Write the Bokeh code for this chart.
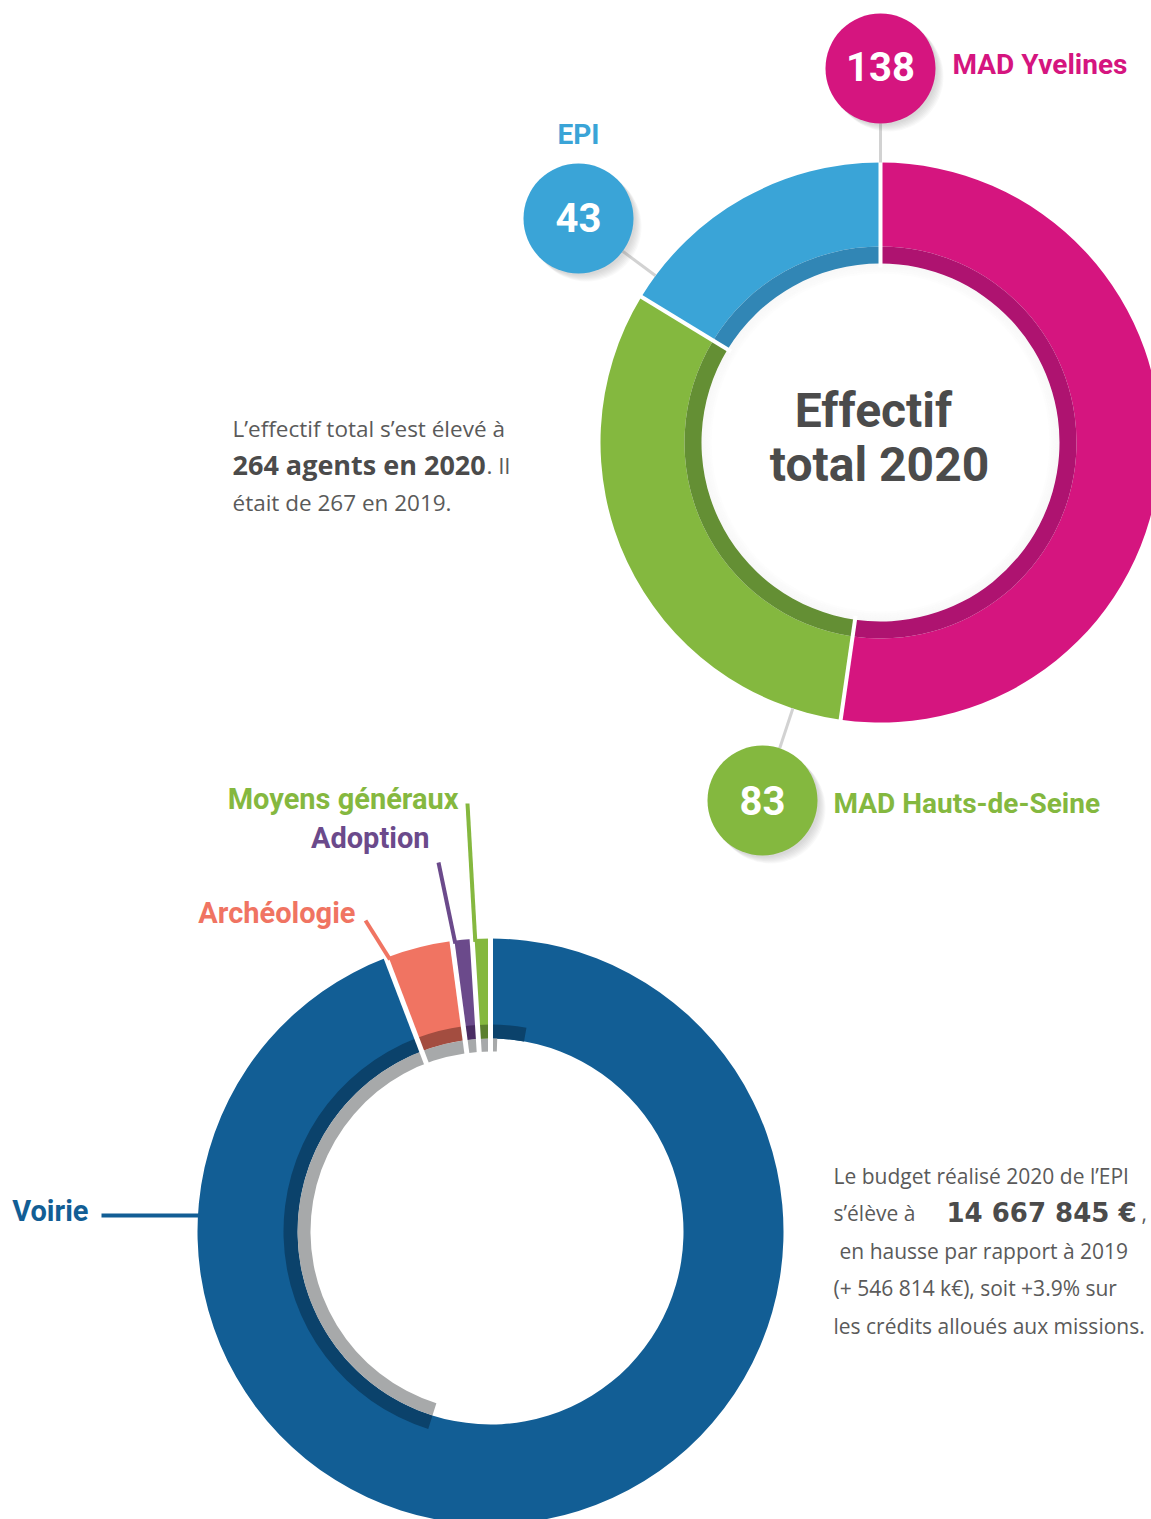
import numpy as np
from bokeh.plotting import figure
from bokeh.models import Range1d, ColumnDataSource
from bokeh.core.properties import value
from bokeh.embed import file_html
from bokeh.resources import INLINE

# ---------------- data ----------------
staff_labels = ["MAD Yvelines", "MAD Hauts-de-Seine", "EPI"]
staff_values = [138, 83, 43]
staff_colors = ["#d5157f", "#84b83f", "#3aa4d7"]
staff_dark = ["#ae1370", "#648f34", "#3186b5"]
staff_title = ["Effectif", "total 2020"]
staff_total_2020 = 264
staff_total_2019 = 267

budget_labels = ["Voirie", "Archéologie", "Adoption", "Moyens généraux"]
budget_shares = [94.2, 3.7, 1.1, 1.0]   # % of the 2020 budget
budget_colors = ["#125e95", "#f07462", "#6b4a8b", "#85b83f"]
budget_dark = ["#0b426b", "#a34d40", "#4a2c63", "#5b7f2f"]
budget_total = "14 667 845 €"

para1 = ["L’effectif total s’est élevé à", "%d agents en 2020" % staff_total_2020, ". Il",
         "était de %d en 2019." % staff_total_2019]
para2 = ["Le budget réalisé 2020 de l’EPI", "s’élève à", budget_total, ",",
         " en hausse par rapport à 2019", "(+ 546 814 k€), soit +3.9% sur",
         "les crédits alloués aux missions."]

# ---------------- helpers ----------------
W, H = 1151, 1519


def Y(py):
    return H - py


def cum_angles(vals):
    tot = float(sum(vals))
    edges = [0.0]
    for v in vals:
        edges.append(edges[-1] + 360.0 * v / tot)
    return edges


def bk(theta):
    return np.pi / 2 - np.radians(theta)


def polar(cx, cy, r, theta):
    t = np.radians(theta)
    return cx + r * np.sin(t), cy + r * np.cos(t)


p = figure(width=W, height=H, x_range=Range1d(0, W), y_range=Range1d(0, H),
           x_axis_type=None, y_axis_type=None, toolbar_location=None,
           output_backend="svg", min_border=0)
p.outline_line_color = None
p.background_fill_color = "white"
p.border_fill_color = "white"

BOLD = value("Roboto")
REG = value("Open Sans")
MID = "middle"

# ================= top donut =================
cx1, cy1 = 880, Y(442)
R1o, R1i, R1d = 280, 196, 179
e1 = cum_angles(staff_values)

src1 = ColumnDataSource(dict(
    s=[bk(a) for a in e1[:-1]], e=[bk(a) for a in e1[1:]],
    c=staff_colors, d=staff_dark))
p.annular_wedge(x=cx1, y=cy1, inner_radius=R1i, outer_radius=R1o, start_angle="s",
                end_angle="e", direction="clock", fill_color="c", line_color=None, source=src1)
p.annular_wedge(x=cx1, y=cy1, inner_radius=R1d, outer_radius=R1i, start_angle="s",
                end_angle="e", direction="clock", fill_color="d", line_color=None, source=src1)
for k in range(5):
    p.annulus(x=cx1, y=cy1, inner_radius=R1d - 2 - 2 * k, outer_radius=R1d - 2 * k,
              fill_color="#9a9a9a", fill_alpha=0.07 - 0.012 * k, line_color=None)

sx0, sy0, sx1, sy1 = [], [], [], []
for a in e1[:-1]:
    x0, y0 = polar(cx1, cy1, R1d - 4, a)
    x1, y1 = polar(cx1, cy1, R1o + 4, a)
    sx0.append(x0); sy0.append(y0); sx1.append(x1); sy1.append(y1)
p.segment(sx0, sy0, sx1, sy1, line_color="white", line_width=4)

# bubbles
bub_x = [880, 762, 578]
bub_y = [Y(68), Y(800), Y(218)]
bub_r = 55
for bx, by in zip(bub_x, bub_y):
    dx, dy = bx - cx1, by - cy1
    d = np.hypot(dx, dy)
    ux, uy = dx / d, dy / d
    p.line([cx1 + ux * R1o, bx - ux * bub_r], [cy1 + uy * R1o, by - uy * bub_r],
           line_color="#d2d2d2", line_width=3)
for k in range(7):
    p.circle(x=[bx + 2 + k for bx in bub_x], y=[by - 2 - k for by in bub_y],
             radius=bub_r, fill_color="#888888", fill_alpha=0.05, line_color=None)
p.circle(x=bub_x, y=bub_y, radius=bub_r, fill_color=staff_colors, line_color=None)
p.text(x=bub_x, y=[Y(66), Y(800), Y(217)], text=[str(v) for v in staff_values],
       text_font=BOLD, text_font_style="bold", text_font_size="40px",
       text_color="white", text_align="center", text_baseline=MID)

# labels
p.text(x=[952, 833], y=[Y(64), Y(803)], text=staff_labels[:2], text_font=BOLD,
       text_font_style="bold", text_font_size="28px", text_color=staff_colors[:2],
       text_align="left", text_baseline=MID)
p.text(x=[578], y=[Y(134)], text=[staff_labels[2]], text_font=BOLD,
       text_font_style="bold", text_font_size="28px", text_color=staff_colors[2],
       text_align="center", text_baseline=MID)

# title
p.text(x=[873, 879], y=[Y(410), Y(464)], text=staff_title, text_font=BOLD,
       text_font_style="bold", text_font_size="48px", text_color="#4b4b4b",
       text_align="center", text_baseline=MID)

# left paragraph
p.text(x=[232], y=[Y(428)], text=[para1[0]], text_font=REG, text_font_size="22.5px",
       text_color="#5a5a5a", text_align="left", text_baseline=MID)
p.text(x=[232], y=[Y(464)], text=[para1[1]], text_font=REG, text_font_style="bold",
       text_font_size="27px", text_color="#4b4b4b", text_align="left",
       text_baseline=MID)
p.text(x=[486], y=[Y(465)], text=[para1[2]], text_font=REG, text_font_size="22.5px",
       text_color="#5a5a5a", text_align="left", text_baseline=MID)
p.text(x=[232], y=[Y(502)], text=[para1[3]], text_font=REG, text_font_size="22.5px",
       text_color="#5a5a5a", text_align="left", text_baseline=MID)

# ================= bottom donut =================
cx2, cy2 = 490, Y(1231)
R2o, R2i, R2d, R2g = 293, 193, 207, 180
e2 = cum_angles(budget_shares)

src2 = ColumnDataSource(dict(
    s=[bk(a) for a in e2[:-1]], e=[bk(a) for a in e2[1:]], c=budget_colors))
p.annular_wedge(x=cx2, y=cy2, inner_radius=R2i, outer_radius=R2o, start_angle="s",
                end_angle="e", direction="clock", fill_color="c", line_color=None, source=src2)

ds, de, dc = [], [], []
for a0, a1, col in zip(e2[:-1], e2[1:], budget_dark):
    for w0, w1 in [(197.5, 370.0), (-162.5, 10.0)]:
        lo, hi = max(a0, w0), min(a1, w1)
        if hi > lo:
            ds.append(bk(lo)); de.append(bk(hi)); dc.append(col)
p.annular_wedge(x=cx2, y=cy2, inner_radius=R2i, outer_radius=R2d, start_angle=ds,
                end_angle=de, direction="clock", fill_color=dc, line_color=None)
p.annular_wedge(x=cx2, y=cy2, inner_radius=R2g, outer_radius=R2i, start_angle=bk(197.5),
                end_angle=bk(362.0), direction="clock", fill_color="#a7a9aa", line_color=None)

sx0, sy0, sx1, sy1 = [], [], [], []
for a in e2[:-1]:
    x0, y0 = polar(cx2, cy2, R2g - 4, a)
    x1, y1 = polar(cx2, cy2, R2o + 4, a)
    sx0.append(x0); sy0.append(y0); sx1.append(x1); sy1.append(y1)
p.segment(sx0, sy0, sx1, sy1, line_color="white", line_width=5)

# leader lines
lab_anchor = {1: (365, Y(920)), 2: (438, Y(862)), 3: (467, Y(803))}
for i, (ax, ay) in lab_anchor.items():
    ex, ey = polar(cx2, cy2, R2o - 3, e2[i] + 0.6)
    p.line([ax, ex], [ay, ey], line_color=budget_colors[i], line_width=4)
vy = Y(1215)
vx = cx2 - np.sqrt(R2o ** 2 - (vy - cy2) ** 2)
p.line([101, vx + 2], [vy, vy], line_color=budget_colors[0], line_width=4)

p.text(x=[88, 355, 429, 458], y=[Y(1210), Y(912), Y(837), Y(798)], text=budget_labels,
       text_font=BOLD, text_font_style="bold", text_font_size="29px",
       text_color=budget_colors, text_align="right", text_baseline=MID)

# right paragraph
px = 833
p.text(x=[px, px, px + 6, px, px], y=[Y(1175), Y(1212), Y(1250), Y(1287), Y(1325)],
       text=[para2[0], para2[1], para2[4], para2[5], para2[6]], text_font=REG,
       text_font_size="21px", text_color="#5a5a5a", text_align="left",
       text_baseline=MID)
p.text(x=[946], y=[Y(1212)], text=[para2[2]], text_font=value("DejaVu Sans"),
       text_font_style="bold", text_font_size="26px", text_color="#4b4b4b",
       text_align="left", text_baseline=MID)
p.text(x=[1141], y=[Y(1212)], text=[para2[3]], text_font=REG, text_font_size="21px",
       text_color="#5a5a5a", text_align="left", text_baseline=MID)

open("out.html", "w").write(file_html(p, INLINE))
